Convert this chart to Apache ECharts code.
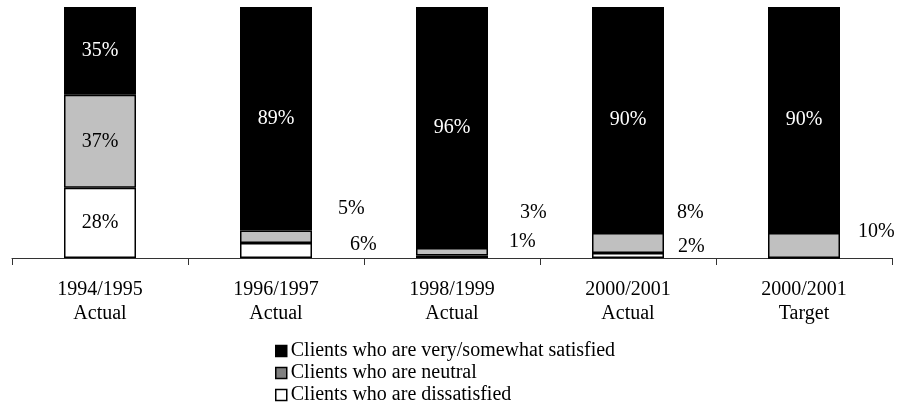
<!DOCTYPE html>
<html>
<head>
<meta charset="utf-8">
<style>
  html, body { margin: 0; padding: 0; background: #fff; }
  #chart { width: 898px; height: 414px; }
</style>
<script src="https://cdn.jsdelivr.net/npm/echarts@6/dist/echarts.min.js"></script>
</head>
<body>
<div id="chart"></div>
<script>
// Client satisfaction by period (percent of clients)
const categories = ['1994/1995\nActual', '1996/1997\nActual', '1998/1999\nActual', '2000/2001\nActual', '2000/2001\nTarget'];
const satisfied = [35, 89, 96, 90, 90];
const neutral = [37, 5, 3, 8, 10];
const dissatisfied = [28, 6, 1, 2, 0];

// Small segments carry their label beside the bar, nudged by these offsets
const neutralLabelOffset = [null, [21, -28], [27, -39], [8, -30], [13, -14]];
const dissatisfiedLabelOffset = [null, [33, -6], [16, -15], [9, -9], null];

const FONT = 'Liberation Serif';

function buildData(values, offsets, insideColor) {
  return values.map((v, i) => {
    const item = { value: v };
    if (v === 0) {
      item.label = { show: false };
    } else if (offsets && offsets[i]) {
      item.label = { position: 'right', distance: 5, offset: offsets[i], color: '#000' };
    } else {
      item.label = { position: 'inside', color: insideColor };
    }
    return item;
  });
}

const baseSeries = {
  type: 'bar',
  stack: 'total',
  barWidth: 72,
  label: {
    show: true,
    formatter: p => p.value + '%',
    fontFamily: FONT,
    fontSize: 20
  },
  emphasis: { disabled: true }
};

const chart = echarts.init(document.getElementById('chart'));
chart.setOption({
  animation: false,
  backgroundColor: '#fff',
  grid: { left: 12, right: 6, top: 7, bottom: 156 },
  legend: {
    orient: 'vertical',
    left: 275,
    top: 340,
    padding: 0,
    height: 74,
    itemWidth: 11,
    itemHeight: 11,
    itemGap: 0,
    icon: 'rect',
    selectedMode: false,
    textStyle: { fontFamily: FONT, fontSize: 20, color: '#000', lineHeight: 22, padding: [0, 0, 0, -1] },
    data: [
      { name: 'Clients who are very/somewhat satisfied', itemStyle: { color: '#000', borderColor: '#000', borderWidth: 1.5 } },
      { name: 'Clients who are neutral', itemStyle: { color: '#808080', borderColor: '#000', borderWidth: 1.5 } },
      { name: 'Clients who are dissatisfied', itemStyle: { color: '#fff', borderColor: '#000', borderWidth: 1.5 } }
    ]
  },
  xAxis: {
    type: 'category',
    data: categories,
    axisLine: { lineStyle: { color: '#333', width: 1 } },
    axisTick: { show: true, length: 7, lineStyle: { color: '#333' } },
    axisLabel: {
      interval: 0,
      margin: 20,
      fontFamily: FONT,
      fontSize: 20,
      lineHeight: 24,
      color: '#000'
    }
  },
  yAxis: {
    type: 'value',
    min: 0,
    max: 100,
    show: false,
    splitLine: { show: false }
  },
  series: [
    Object.assign({}, baseSeries, {
      name: 'Clients who are dissatisfied',
      itemStyle: { color: '#fff', borderColor: '#000', borderWidth: 1.5 },
      data: buildData(dissatisfied, dissatisfiedLabelOffset, '#000')
    }),
    Object.assign({}, baseSeries, {
      name: 'Clients who are neutral',
      itemStyle: { color: '#c0c0c0', borderColor: '#000', borderWidth: 1.5 },
      data: buildData(neutral, neutralLabelOffset, '#000')
    }),
    Object.assign({}, baseSeries, {
      name: 'Clients who are very/somewhat satisfied',
      itemStyle: { color: '#000', borderColor: '#000', borderWidth: 1.5 },
      data: buildData(satisfied, null, '#fff')
    })
  ]
});
</script>
</body>
</html>
